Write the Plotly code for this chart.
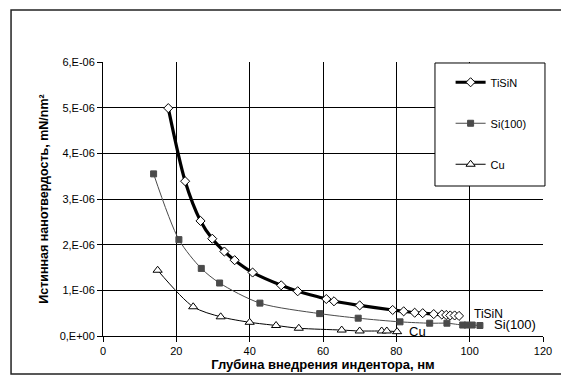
import plotly.graph_objects as go

# Data (x: depth, nm; y: hardness, mN/nm^2)
tisin_x = [17.8, 22.4, 26.6, 29.8, 33.1, 35.9, 40.8, 48.6, 53.1, 60.9, 63.0, 70.0, 79.0, 82.0, 85.0, 87.2, 90.2, 92.4, 93.6, 94.7, 95.9, 97.1]
tisin_y = [4.99e-6, 3.39e-6, 2.52e-6, 2.13e-6, 1.85e-6, 1.66e-6, 1.39e-6, 1.11e-6, 0.98e-6, 0.81e-6, 0.76e-6, 0.67e-6, 0.57e-6, 0.54e-6, 0.51e-6, 0.50e-6, 0.48e-6, 0.47e-6, 0.46e-6, 0.45e-6, 0.45e-6, 0.44e-6]

si_x = [13.8, 20.7, 26.8, 31.8, 42.8, 59.1, 69.6, 81.0, 89.1, 93.8, 98.1, 99.3, 100.7, 102.8]
si_y = [3.55e-6, 2.11e-6, 1.48e-6, 1.16e-6, 0.72e-6, 0.49e-6, 0.39e-6, 0.31e-6, 0.28e-6, 0.28e-6, 0.24e-6, 0.24e-6, 0.24e-6, 0.23e-6]

cu_x = [14.9, 24.6, 32.1, 40.0, 47.2, 53.4, 65.1, 70.0, 76.0, 77.4, 80.2]
cu_y = [1.44e-6, 0.64e-6, 0.42e-6, 0.30e-6, 0.23e-6, 0.17e-6, 0.13e-6, 0.11e-6, 0.11e-6, 0.11e-6, 0.095e-6]

y_tickvals = [0, 1e-6, 2e-6, 3e-6, 4e-6, 5e-6, 6e-6]
y_ticktext = ["0,E+00", "1,E-06", "2,E-06", "3,E-06", "4,E-06", "5,E-06", "6,E-06"]
x_tickvals = [0, 20, 40, 60, 80, 100, 120]

series_names = ["TiSiN", "Si(100)", "Cu"]

FONT = "Liberation Sans, Arial, sans-serif"

fig = go.Figure()
fig.add_trace(go.Scatter(
    x=tisin_x, y=tisin_y, name=series_names[0], mode="lines+markers", legendgroup="a",
    line=dict(color="black", width=3.2, shape="spline", smoothing=0.8),
    marker=dict(symbol="diamond", size=7, color="white", line=dict(color="black", width=1)),
))
fig.add_trace(go.Scatter(
    x=si_x, y=si_y, name=series_names[1], mode="lines+markers", legendgroup="b",
    line=dict(color="#4a4a4a", width=1, shape="spline", smoothing=0.8),
    marker=dict(symbol="square", size=6, color="#4a4a4a", line=dict(color="#4a4a4a", width=1)),
))
fig.add_trace(go.Scatter(
    x=cu_x, y=cu_y, name=series_names[2], mode="lines+markers", legendgroup="c",
    line=dict(color="black", width=1, shape="spline", smoothing=0.8),
    marker=dict(symbol="triangle-up", size=8, color="white", line=dict(color="black", width=1)),
))

# end labels
fig.add_annotation(x=100.5, y=0.48e-6, text="TiSiN", showarrow=False, xanchor="left",
                   font=dict(family=FONT, size=12, color="black"))
fig.add_annotation(x=106.0, y=0.256e-6, text="Si(100)", showarrow=False, xanchor="left",
                   font=dict(family=FONT, size=13, color="black"))
fig.add_annotation(x=82.9, y=0.094e-6, text="Cu", showarrow=False, xanchor="left",
                   font=dict(family=FONT, size=13, color="black"))

# outer chart border
fig.add_shape(type="rect", xref="paper", yref="paper",
              x0=-0.209, x1=1.0545, y0=-0.1387, y1=1.19,
              line=dict(color="#222", width=1.5), fillcolor="rgba(0,0,0,0)", layer="below")
# legend box
fig.add_shape(type="rect", xref="paper", yref="paper",
              x0=0.7545, x1=1.0045, y0=0.5474, y1=0.9964,
              line=dict(color="black", width=1), fillcolor="white", layer="above")

fig.update_layout(
    width=561, height=375,
    margin=dict(l=95, r=26, t=54, b=47),
    paper_bgcolor="white", plot_bgcolor="white",
    font=dict(family=FONT, size=11, color="black"),
    showlegend=True,
    legend=dict(x=0.79, y=0.979, xanchor="left", yanchor="top",
                bgcolor="rgba(0,0,0,0)", borderwidth=0,
                font=dict(family=FONT, size=11, color="black"),
                tracegroupgap=22, itemwidth=30),
    xaxis=dict(range=[0, 120], tickvals=x_tickvals, showgrid=True, gridcolor="black", gridwidth=1,
               showline=True, linecolor="black", linewidth=1, ticks="outside", ticklen=5,
               tickcolor="black", zeroline=False,
               title=dict(text="<b>Глубина внедрения индентора, нм</b>", standoff=2,
                          font=dict(family=FONT, size=13))),
    yaxis=dict(range=[0, 6e-6], tickvals=y_tickvals, ticktext=y_ticktext, showgrid=True,
               gridcolor="black", gridwidth=1, showline=True, linecolor="black", linewidth=1,
               ticks="outside", ticklen=5, tickcolor="black", zeroline=False,
               title=dict(text="<b>Истинная нанотвердость, mN/nm²</b>", standoff=8,
                          font=dict(family=FONT, size=12.5))),
)

fig.write_html("out.html")
